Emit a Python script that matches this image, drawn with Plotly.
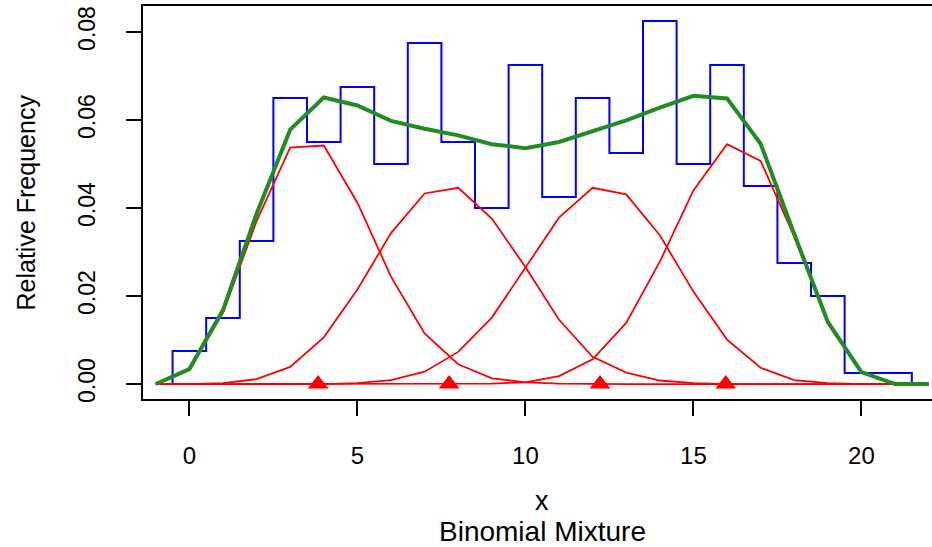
import plotly.graph_objects as go

# ---------------- data ----------------
bin_centers = list(range(0, 22))
rel_freq = [0.0075, 0.015, 0.0325, 0.065, 0.055, 0.0675, 0.05, 0.0775, 0.055, 0.04,
            0.0725, 0.0425, 0.065, 0.0525, 0.0825, 0.05, 0.0725, 0.045, 0.0275, 0.02,
            0.0025, 0.0025]

x_grid = list(range(-1, 23))
comp1 = [0, 0.0034, 0.0162, 0.0370, 0.0537, 0.0542, 0.0412, 0.0244, 0.0115, 0.0045,
         0.0013, 0.0004, 0.0001, 0, 0, 0, 0, 0, 0, 0, 0, 0, 0, 0]
comp2 = [0, 0, 0.0002, 0.0011, 0.0039, 0.0106, 0.0215, 0.0343, 0.0433, 0.0446,
         0.0376, 0.0266, 0.0146, 0.0062, 0.0026, 0.0008, 0.0002, 0, 0, 0, 0, 0, 0, 0]
comp3 = [0, 0, 0, 0, 0, 0, 0.0002, 0.0009, 0.0028, 0.0073, 0.0151, 0.0264,
         0.0378, 0.0446, 0.0431, 0.0338, 0.0210, 0.0101, 0.0037, 0.0009, 0.0002, 0, 0, 0]
comp4 = [0, 0, 0, 0, 0, 0, 0, 0, 0, 0, 0.0001, 0.0004, 0.0018, 0.0056, 0.0139,
         0.0278, 0.0440, 0.0545, 0.0507, 0.0335, 0.0140, 0.0026, 0.0002, 0]
mixture = [0, 0.0034, 0.0168, 0.0387, 0.0578, 0.0651, 0.0633, 0.0598, 0.0580, 0.0565,
           0.0545, 0.0536, 0.0550, 0.0575, 0.0599, 0.0628, 0.0655, 0.0649, 0.0546,
           0.0341, 0.0141, 0.0027, 0, 0]
comp_means = [3.83, 7.73, 12.22, 15.96]

x_ticks = [0, 5, 10, 15, 20]
y_ticks = [0.0, 0.02, 0.04, 0.06, 0.08]
y_ticktext = ["0.00", "0.02", "0.04", "0.06", "0.08"]

FONT = "Liberation Sans, Arial, Helvetica, sans-serif"

# ---------------- step outline of the histogram ----------------
half = 0.5
step_x = [bin_centers[0] - half] + [c - half for c in bin_centers] + [bin_centers[-1] + half] * 2
step_y = [0] + rel_freq + [rel_freq[-1], 0]

fig = go.Figure()
fig.add_trace(go.Scatter(x=step_x, y=step_y, mode="lines", line_shape="hv",
                         line=dict(color="#0000FF", width=2), showlegend=False,
                         hoverinfo="skip"))
for comp in (comp1, comp2, comp3, comp4):
    fig.add_trace(go.Scatter(x=x_grid, y=comp, mode="lines",
                             line=dict(color="#FF0000", width=1.8), showlegend=False))
fig.add_trace(go.Scatter(x=x_grid, y=mixture, mode="lines",
                         line=dict(color="#228B22", width=4), showlegend=False))
fig.add_trace(go.Scatter(x=comp_means, y=[0] * len(comp_means), mode="markers",
                         marker=dict(symbol="triangle-up", color="#FF0000", size=18,
                                     line=dict(width=0)),
                         showlegend=False))

fig.update_layout(
    width=932, height=547,
    margin=dict(l=143, r=0, t=6, b=148),
    paper_bgcolor="white", plot_bgcolor="white",
    font=dict(family=FONT, color="black"),
    xaxis=dict(range=[-1.38, 22.1], showgrid=False, zeroline=False,
               showline=True, linecolor="black", linewidth=1.5, mirror=True,
               ticks="outside", ticklen=15, tickwidth=1.5, tickcolor="black",
               tickvals=x_ticks, tickfont=dict(size=24, family=FONT),
               ticklabelstandoff=19),
    yaxis=dict(range=[-0.0034, 0.0859], showgrid=False, zeroline=False,
               showline=True, linecolor="black", linewidth=1.5, mirror=False,
               ticks="outside", ticklen=15, tickwidth=1.5, tickcolor="black",
               tickvals=y_ticks, ticktext=y_ticktext, tickangle=-90,
               tickfont=dict(size=23, family=FONT), ticklabelstandoff=22),
    annotations=[
        dict(text="Relative Frequency", xref="paper", yref="paper", x=0, y=0.5,
             xanchor="center", yanchor="middle", xshift=-118, textangle=-90,
             showarrow=False, font=dict(size=25, family=FONT)),
        dict(text="x", xref="x", yref="paper", x=10.5, y=0, xanchor="center",
             yanchor="middle", yshift=-102, showarrow=False,
             font=dict(size=27, family=FONT)),
        dict(text="Binomial Mixture", xref="x", yref="paper", x=10.5, y=0,
             xanchor="center", yanchor="middle", yshift=-132, showarrow=False,
             font=dict(size=28, family=FONT)),
    ],
)

fig.write_html("out.html")
